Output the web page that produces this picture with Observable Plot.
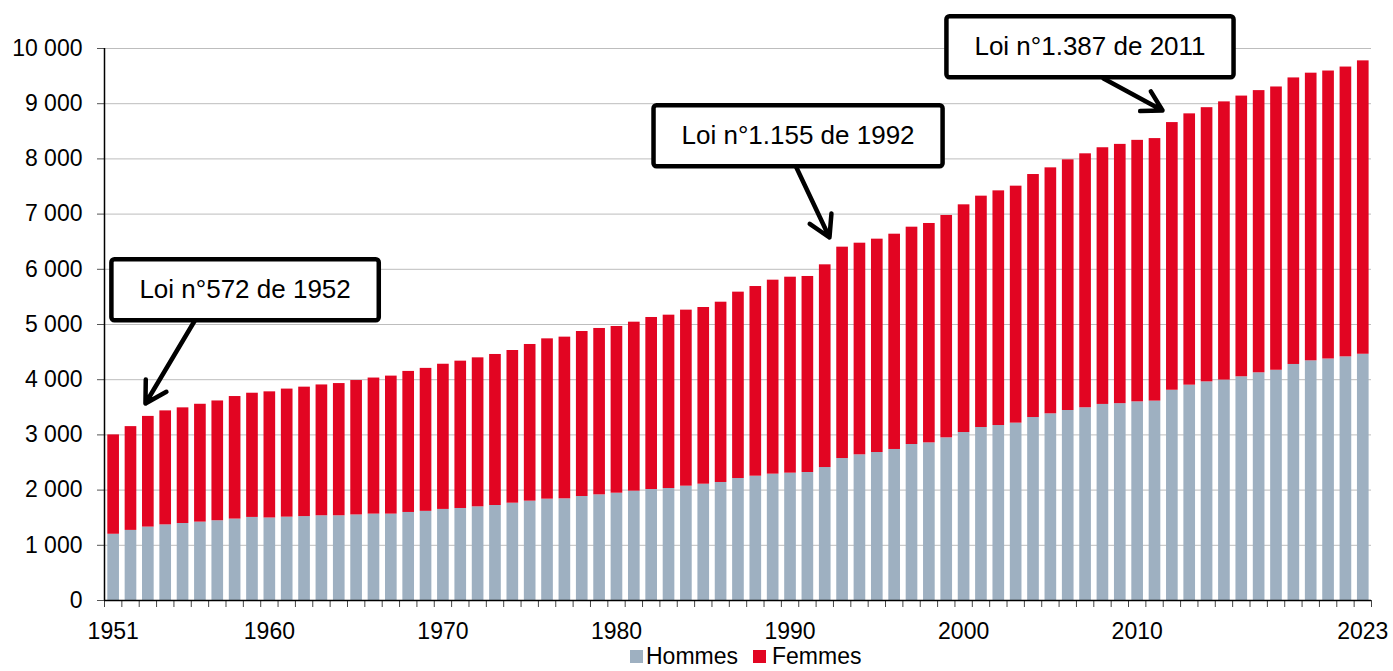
<!DOCTYPE html>
<html><head><meta charset="utf-8">
<script src="https://cdn.jsdelivr.net/npm/d3@7"></script>
<script src="https://cdn.jsdelivr.net/npm/@observablehq/plot@0.6"></script>
<style>
body{margin:0;background:#fff;font-family:"Liberation Sans",Arial,Helvetica,sans-serif;}
#wrap{position:relative;width:1393px;height:671px;}
#legend{position:absolute;top:645px;left:630px;display:flex;align-items:center;font-size:23px;line-height:23px;color:#000;white-space:nowrap;}
.sw{width:13px;height:13px;display:inline-block;}
</style></head><body><div id="wrap"><div id="chart"></div><div id="legend"></div></div>
<script>
const years = [1951,1952,1953,1954,1955,1956,1957,1958,1959,1960,1961,1962,1963,1964,1965,1966,1967,1968,1969,1970,
1971,1972,1973,1974,1975,1976,1977,1978,1979,1980,1981,1982,1983,1984,1985,1986,1987,1988,1989,1990,
1991,1992,1993,1994,1995,1996,1997,1998,1999,2000,2001,2002,2003,2004,2005,2006,2007,2008,2009,2010,
2011,2012,2013,2014,2015,2016,2017,2018,2019,2020,2021,2022,2023];
const hommes = [1200,1270,1330,1370,1395,1420,1445,1475,1505,1495,1510,1520,1535,1535,1550,1565,1565,1595,1615,1650,
1667,1697,1721,1763,1800,1836,1842,1884,1914,1944,1981,2011,2029,2071,2107,2138,2210,2252,2289,2307,
2319,2409,2572,2639,2681,2736,2826,2856,2947,3043,3134,3170,3213,3315,3382,3442,3492,3552,3566,3599,
3612,3809,3901,3961,3993,4053,4125,4171,4276,4342,4375,4414,4461];
const femmes = [1800,1880,2005,2065,2095,2135,2170,2220,2250,2285,2320,2345,2370,2395,2435,2465,2500,2555,2590,2630,
2669,2699,2736,2766,2838,2904,2929,2989,3014,3020,3061,3116,3140,3189,3201,3266,3376,3436,3514,3550,
3551,3672,3829,3834,3865,3900,3937,3974,4028,4125,4191,4251,4293,4402,4456,4541,4600,4650,4697,4737,
4756,4849,4915,4967,5040,5085,5112,5132,5191,5211,5217,5250,5315];
const seriesNames = ["Hommes", "Femmes"];
const seriesColors = ["#9eb0c1", "#e20522"];
const yTicks = [0,1000,2000,3000,4000,5000,6000,7000,8000,9000,10000];
const xTickLabels = [1951,1960,1970,1980,1990,2000,2010,2023];
const annotationLabels = ["Loi n°572 de 1952", "Loi n°1.155 de 1992", "Loi n°1.387 de 2011"];

// annotation anchors in data space (year, effectif)
const annotationAnchors = [
  {x:1958.6, y:5634, x1:1955.74, y1:5091, x2:1952.86, y2:3569},
  {x:1990.46, y:8424, x1:1990.31, y1:7880, x2:1992.27, y2:6576},
  {x:2007.28, y:10036, x1:2008.06, y1:9457, x2:2011.46, y2:8877}
];
const annotations = annotationLabels.map((label, i) => ({label, ...annotationAnchors[i]}));

const rows = [];
years.forEach((yr, i) => {
  rows.push({year: yr, sexe: seriesNames[0], y1: 0, y2: hommes[i]});
  rows.push({year: yr, sexe: seriesNames[1], y1: hommes[i], y2: hommes[i] + femmes[i]});
});
const xBoundaries = years.map(y => y - 0.5).concat([years[years.length - 1] + 0.5]);
const fmt = d3.formatLocale({decimal: ",", thousands: " ", grouping: [3], currency: ["", "€"]}).format(",");
const font = '"Liberation Sans", Arial, Helvetica, sans-serif';

const plot = Plot.plot({
  width: 1393, height: 645,
  marginLeft: 104, marginRight: 22, marginTop: 48, marginBottom: 45,
  style: {fontFamily: font, fontSize: "23px", color: "#000", background: "#fff", overflow: "visible"},
  x: {type: "linear", domain: [xBoundaries[0], xBoundaries[xBoundaries.length - 1]]},
  y: {domain: [0, 10000]},
  color: {domain: seriesNames, range: seriesColors},
  marks: [
    Plot.gridY(yTicks.slice(1), {stroke: "#bdbdbd", strokeOpacity: 1, strokeWidth: 1}),
    Plot.rect(rows, {x1: d => d.year - 0.5, x2: d => d.year + 0.5, y1: "y1", y2: "y2", fill: "sexe", insetLeft: 3.3, insetRight: 2.4}),
    Plot.axisY(yTicks, {tickSize: 7, tickPadding: 15, tickFormat: fmt, fontSize: 23, stroke: "#555", label: null}),
    Plot.axisX(xBoundaries, {tickSize: 7, tickFormat: () => "", stroke: "#444", label: null}),
    Plot.axisX(xTickLabels, {tickSize: 0, tickPadding: 22, tickFormat: d => String(d), fontSize: 23, label: null}),
    Plot.ruleX([xBoundaries[0]], {y1: 0, y2: 10000, stroke: "#000", strokeWidth: 1.5}),
    Plot.ruleY([0], {stroke: "#000", strokeWidth: 1.5}),
    Plot.arrow(annotations, {x1: "x1", y1: "y1", x2: "x2", y2: "y2", stroke: "#000", strokeWidth: 4.5, headLength: 8, headAngle: 60}),
    Plot.text(annotations, {x: "x", y: "y", text: "label", fontSize: 26, fill: "#000", fontFamily: font})
  ]
});
document.getElementById("chart").append(plot);

// framed boxes behind annotation texts
const ns = "http://www.w3.org/2000/svg";
const tg = plot.querySelector('g[aria-label="text"]');
if (tg) {
  tg.querySelectorAll("text").forEach(t => {
    const b = t.getBBox();
    const r = document.createElementNS(ns, "rect");
    const w = b.width + 56, h = 61;
    const cx = b.x + b.width / 2, cy = b.y + b.height / 2;
    r.setAttribute("x", cx - w / 2);
    r.setAttribute("y", cy - h / 2 + 1);
    r.setAttribute("width", w);
    r.setAttribute("height", h);
    r.setAttribute("rx", 3);
    r.setAttribute("fill", "#fff");
    r.setAttribute("stroke", "#000");
    r.setAttribute("stroke-width", 4.5);
    if (t.getAttribute("transform")) r.setAttribute("transform", t.getAttribute("transform"));
    tg.insertBefore(r, tg.firstChild);
  });
}

// legend
const lg = document.getElementById("legend");
seriesNames.forEach((name, i) => {
  const sw = document.createElement("span");
  sw.className = "sw";
  sw.style.background = seriesColors[i];
  if (i > 0) sw.style.marginLeft = "15px";
  const tx = document.createElement("span");
  tx.textContent = name;
  tx.style.marginLeft = i > 0 ? "6px" : "3px";
  lg.append(sw, tx);
});
</script></body></html>
